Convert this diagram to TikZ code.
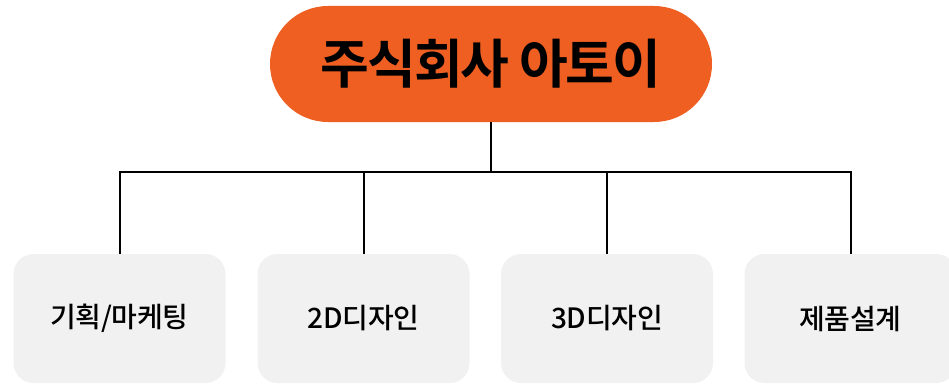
\documentclass[tikz,border=0pt]{standalone}
\usepackage{fontspec}
\setmainfont{Noto Sans CJK KR}
\newfontfamily\krbold[LetterSpace=-4]{Noto Sans CJK KR Bold}
\newfontfamily\krmed[LetterSpace=-1]{Noto Sans CJK KR Medium}
\definecolor{orng}{HTML}{F05F22}
\definecolor{boxgray}{HTML}{F1F1F1}
\begin{document}
\begin{tikzpicture}[x=1pt,y=-1pt,
  topnode/.style={fill=orng,rounded corners=58pt,minimum width=442pt,minimum height=116pt,inner sep=0pt,font=\krbold\fontsize{53}{53}\selectfont},
  dept/.style={fill=boxgray,rounded corners=20pt,minimum width=212pt,minimum height=129pt,inner sep=0pt,font=\krmed\fontsize{28}{28}\selectfont},
  link/.style={line width=2pt,draw=black}]
\useasboundingbox (0,0) rectangle (949,385);
\node[topnode] (top) at (491,64) {주식회사 아토이};
\node[dept] (d1) at (119.5,318.5) {기획/마케팅};
\node[dept] (d2) at (363.5,318.5) {2D디자인};
\node[dept] (d3) at (607,318.5) {3D디자인};
\node[dept] (d4) at (850.5,318.5) {제품설계};
\coordinate (hub) at (491,172);
\draw[link] (top.south) -- (hub);
\draw[link] (d1.north) |- (hub) -| (d4.north);
\draw[link] (d2.north) -- (d2.north |- hub);
\draw[link] (d3.north) -- (d3.north |- hub);
\end{tikzpicture}
\end{document}
